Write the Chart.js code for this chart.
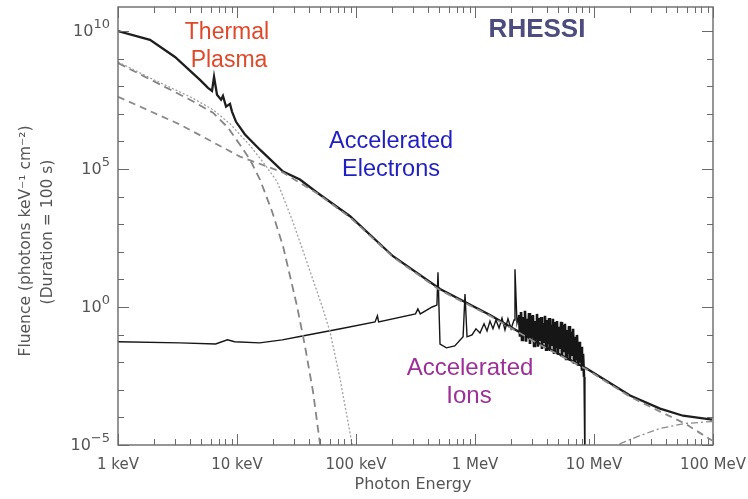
<!DOCTYPE html>
<html>
<head>
<meta charset="utf-8">
<title>RHESSI flare spectrum</title>
<script src="https://cdn.jsdelivr.net/npm/chart.js@4.4.1/dist/chart.umd.min.js"></script>
<style>
  html,body{margin:0;padding:0;background:#fff;}
  #wrap{width:748px;height:499px;position:relative;}
</style>
</head>
<body>
<div id="wrap"><canvas id="spec"></canvas></div>
<script>
/* ===== Data: log10(E / keV) and log10(fluence) ===== */
const totalLogE = [0.000,0.269,0.479,0.689,0.756,0.790,0.807,0.832,0.866,0.882,0.908,0.941,0.958,0.992,1.067,1.193,1.387,1.529,1.672,1.950,2.311,2.706,3.126,3.546,3.941,4.303,4.555,4.748,4.992];
const totalLogF = [10.00,9.68,9.06,8.23,7.94,7.83,8.34,7.69,7.51,7.65,7.26,7.36,7.08,6.71,6.25,5.70,4.91,4.62,4.15,3.29,1.84,0.65,-0.29,-1.34,-2.24,-3.21,-3.68,-3.94,-4.08];

// hot thermal component (dotted)
const hotLogE = [0.000,0.269,0.605,0.798,0.941,1.109,1.235,1.336,1.462,1.588,1.714,1.782,1.866,1.966,2.000];
const hotLogF = [8.88,8.30,7.62,7.15,6.64,5.85,5.16,4.55,3.18,1.62,0.04,-0.90,-2.60,-4.95,-6.20];

// cool thermal component (dashed)
const coolLogE = [0.000,0.605,0.798,0.924,1.025,1.109,1.193,1.294,1.387,1.504,1.571,1.639,1.697,1.714];
const coolLogF = [8.84,7.51,7.04,6.50,5.88,5.34,4.62,3.47,2.20,0.04,-1.41,-3.07,-4.95,-5.50];

// electron bremsstrahlung (dashed)
const elecLogE = [0.000,0.521,1.025,1.277,1.387,1.672,1.950,2.311,2.706,3.126,3.546,3.941,4.303,4.555,4.765,4.992];
const elecLogF = [7.62,6.61,5.45,5.05,4.87,4.12,3.25,1.81,0.61,-0.32,-1.37,-2.27,-3.25,-3.79,-4.22,-4.84];

// pion decay (dash-dot)
const pionLogE = [4.176,4.219,4.387,4.555,4.765,4.992];
const pionLogF = [-5.49,-4.95,-4.66,-4.40,-4.22,-4.15];

// accelerated ions: continuum, narrow lines, then the nuclear line forest up to ~8 MeV
const ionLogE = [0.00,0.52,0.82,0.92,0.98,1.19,1.38,1.55,1.87,2.16,2.18,2.19,2.50,2.52,2.54,2.64,2.68,2.689,2.706,2.76,2.83,2.90,2.916,2.933,
  2.975,3.008,3.042,3.076,3.101,3.126,3.151,3.176,3.202,3.227,3.252,3.277,3.303,3.328,3.336,3.353,
  3.370,3.378,3.387,3.395,3.403,3.412,3.420,3.429,3.437,3.445,3.454,3.462,3.471,3.479,3.487,3.496,3.504,3.513,3.521,3.529,
  3.538,3.546,3.555,3.563,3.571,3.580,3.588,3.597,3.605,3.613,3.622,3.630,3.639,3.647,3.655,3.664,3.672,3.681,3.689,3.697,
  3.706,3.714,3.723,3.731,3.739,3.748,3.756,3.765,3.773,3.782,3.790,3.798,3.807,3.815,3.824,3.832,3.840,3.849,3.857,3.866,
  3.874,3.882,3.891,3.899,3.908,3.916,3.924];
const ionLogF = [-1.26,-1.30,-1.34,-1.19,-1.26,-1.30,-1.19,-1.05,-0.79,-0.54,-0.32,-0.54,-0.25,-0.07,-0.25,0.00,0.07,1.26,-1.34,-1.48,-1.41,-1.08,0.47,-1.08,
  -1.01,-0.79,-0.94,-0.61,-0.87,-0.51,-0.79,-0.47,-0.76,-0.40,-0.83,-0.43,-0.79,-0.47,1.37,-0.58,
  -0.29,-1.08,-0.18,-1.19,-0.36,-1.01,-0.14,-1.26,-0.43,-1.12,-0.22,-1.34,-0.32,-1.08,-0.29,-1.41,-0.51,-1.16,-0.25,-1.44,
  -0.40,-1.23,-0.36,-1.52,-0.58,-1.26,-0.32,-1.55,-0.47,-1.34,-0.40,-1.59,-0.65,-1.41,-0.43,-1.66,-0.54,-1.44,-0.51,-1.73,
  -0.72,-1.52,-0.54,-1.81,-0.65,-1.59,-0.61,-1.88,-0.83,-1.70,-0.69,-1.95,-0.90,-1.77,-0.79,-2.02,-1.08,-1.88,-1.01,-2.13,
  -1.26,-2.02,-1.44,-2.31,-1.70,-2.53,-6.00];
const LINE_FOREST_FROM = 3.36;   // log10(keV) where the dense line forest starts

/* ===== Axis labels ===== */
const xTickLabels = ['1 keV','10 keV','100 keV','1 MeV','10 MeV','100 MeV'];
const yTickExps   = [10, 5, 0, -5];
const Y_TOP_EXP   = 10.87;

/* ===== Helpers ===== */
const pts = (le, lf) => le.map((e, i) => ({ x: 10 ** e, y: 10 ** lf[i] }));
function line(label, le, lf, color, width, dash, extra){
  return Object.assign({ label, data: pts(le, lf), borderColor: color, borderWidth: width, borderDash: dash || [],
           pointRadius: 0, tension: 0, fill: false }, extra || {});
}
const AXIS = '#6a6a6a';
const FONT = '"DejaVu Sans", "Liberation Sans", sans-serif';

/* ===== Frame, ticks and text ===== */
const framePlugin = {
  id: 'frame',
  afterDatasetsDraw(chart){
    const { ctx, chartArea: a, scales: { x, y } } = chart;
    ctx.save();
    ctx.strokeStyle = AXIS; ctx.lineWidth = 1.4;
    ctx.strokeRect(a.left, a.top, a.right - a.left, a.bottom - a.top);

    // x ticks, pointing inward from bottom and top
    ctx.lineWidth = 1;
    ctx.beginPath();
    for (let d = 0; d <= 5; d++){
      for (let m = 1; m <= 9; m++){
        if (d === 5 && m > 1) break;
        const px = Math.round(x.getPixelForValue(m * 10 ** d)) + 0.5;
        const len = m === 1 ? 11 : 6;
        ctx.moveTo(px, a.bottom); ctx.lineTo(px, a.bottom - len);
        ctx.moveTo(px, a.top);    ctx.lineTo(px, a.top + len);
      }
    }
    // y ticks at every decade, longer every fifth
    for (let e = -5; e <= 10; e++){
      const py = Math.round(y.getPixelForValue(10 ** e)) + 0.5;
      const len = e % 5 === 0 ? 11 : 6;
      ctx.moveTo(a.left, py);  ctx.lineTo(a.left + len, py);
      ctx.moveTo(a.right, py); ctx.lineTo(a.right - len, py);
    }
    ctx.stroke();

    // tick labels
    ctx.fillStyle = '#555';
    ctx.font = '15px ' + FONT;
    ctx.textAlign = 'center'; ctx.textBaseline = 'middle';
    xTickLabels.forEach((t, d) => ctx.fillText(t, x.getPixelForValue(10 ** d), a.bottom + 20));
    yTickExps.forEach(e => {
      const py = y.getPixelForValue(10 ** e);
      const sup = String(e).replace('-', '\u2212');
      ctx.font = '13px ' + FONT;
      const w2 = ctx.measureText(sup).width;
      ctx.font = '16px ' + FONT;
      const w1 = ctx.measureText('10').width;
      const right = a.left - 8;
      ctx.textAlign = 'left';
      ctx.fillText('10', right - w2 - w1, py + 1);
      ctx.font = '13px ' + FONT;
      ctx.fillText(sup, right - w2, py - 6);
    });

    // axis titles
    ctx.textAlign = 'center';
    ctx.font = '16px ' + FONT;
    ctx.fillText('Photon Energy', 413, 485);
    ctx.font = '15.5px ' + FONT;
    ctx.save();
    ctx.translate(26, 241); ctx.rotate(-Math.PI / 2);
    ctx.fillText('Fluence (photons keV\u207B\u00B9 cm\u207B\u00B2)', 0, 0);
    ctx.restore();
    ctx.save();
    ctx.translate(48, 232); ctx.rotate(-Math.PI / 2);
    ctx.fillText('(Duration = 100 s)', 0, 0);
    ctx.restore();

    // annotations
    const note = (txt, cx, cy, color, font) => { ctx.fillStyle = color; ctx.font = font; ctx.fillText(txt, cx, cy); };
    const sans = '"Liberation Sans", Arial, sans-serif';
    note('Thermal', 227, 33, '#e0482a', '23px ' + sans);
    note('Plasma', 229, 61, '#e0482a', '23px ' + sans);
    note('RHESSI', 537, 30, '#4c4c7e', 'bold 26px ' + sans);
    note('Accelerated', 391, 142, '#1f1fc4', '23.5px ' + sans);
    note('Electrons', 391, 170, '#1f1fc4', '23.5px ' + sans);
    note('Accelerated', 470, 368, '#9c2f98', '24px ' + sans);
    note('Ions', 469, 396, '#9c2f98', '24px ' + sans);
    ctx.restore();
  }
};

/* ===== Chart ===== */
const forestWidth = (c) => (Math.log10(c.p0.parsed.x) > LINE_FOREST_FROM && c.p1.parsed.y > 1e-4) ? 2.6 : undefined;

new Chart(document.getElementById('spec').getContext('2d'), {
  type: 'line',
  data: {
    datasets: [
      line('Hot thermal', hotLogE, hotLogF, '#a0a0a0', 1.3, [2, 2]),
      line('Cool thermal', coolLogE, coolLogF, '#858585', 1.8, [8, 5]),
      line('Electron bremsstrahlung', elecLogE, elecLogF, '#8a8a8a', 1.8, [7, 5]),
      line('Pion decay', pionLogE, pionLogF, '#8a8a8a', 1.3, [7, 3, 2, 3]),
      line('Accelerated ions', ionLogE, ionLogF, '#161616', 1.4, null, { segment: { borderWidth: forestWidth } }),
      line('Total', totalLogE, totalLogF, '#1e1e1e', 2.3)
    ]
  },
  options: {
    responsive: true,
    maintainAspectRatio: false,
    animation: false,
    layout: { padding: { left: 118, top: 7, right: 35, bottom: 54 } },
    plugins: { legend: { display: false }, tooltip: { enabled: false } },
    scales: {
      x: { type: 'logarithmic', min: 1, max: 1e5, display: false },
      y: { type: 'logarithmic', min: 1e-5, max: 10 ** Y_TOP_EXP, display: false }
    }
  },
  plugins: [framePlugin]
});
</script>
</body>
</html>
